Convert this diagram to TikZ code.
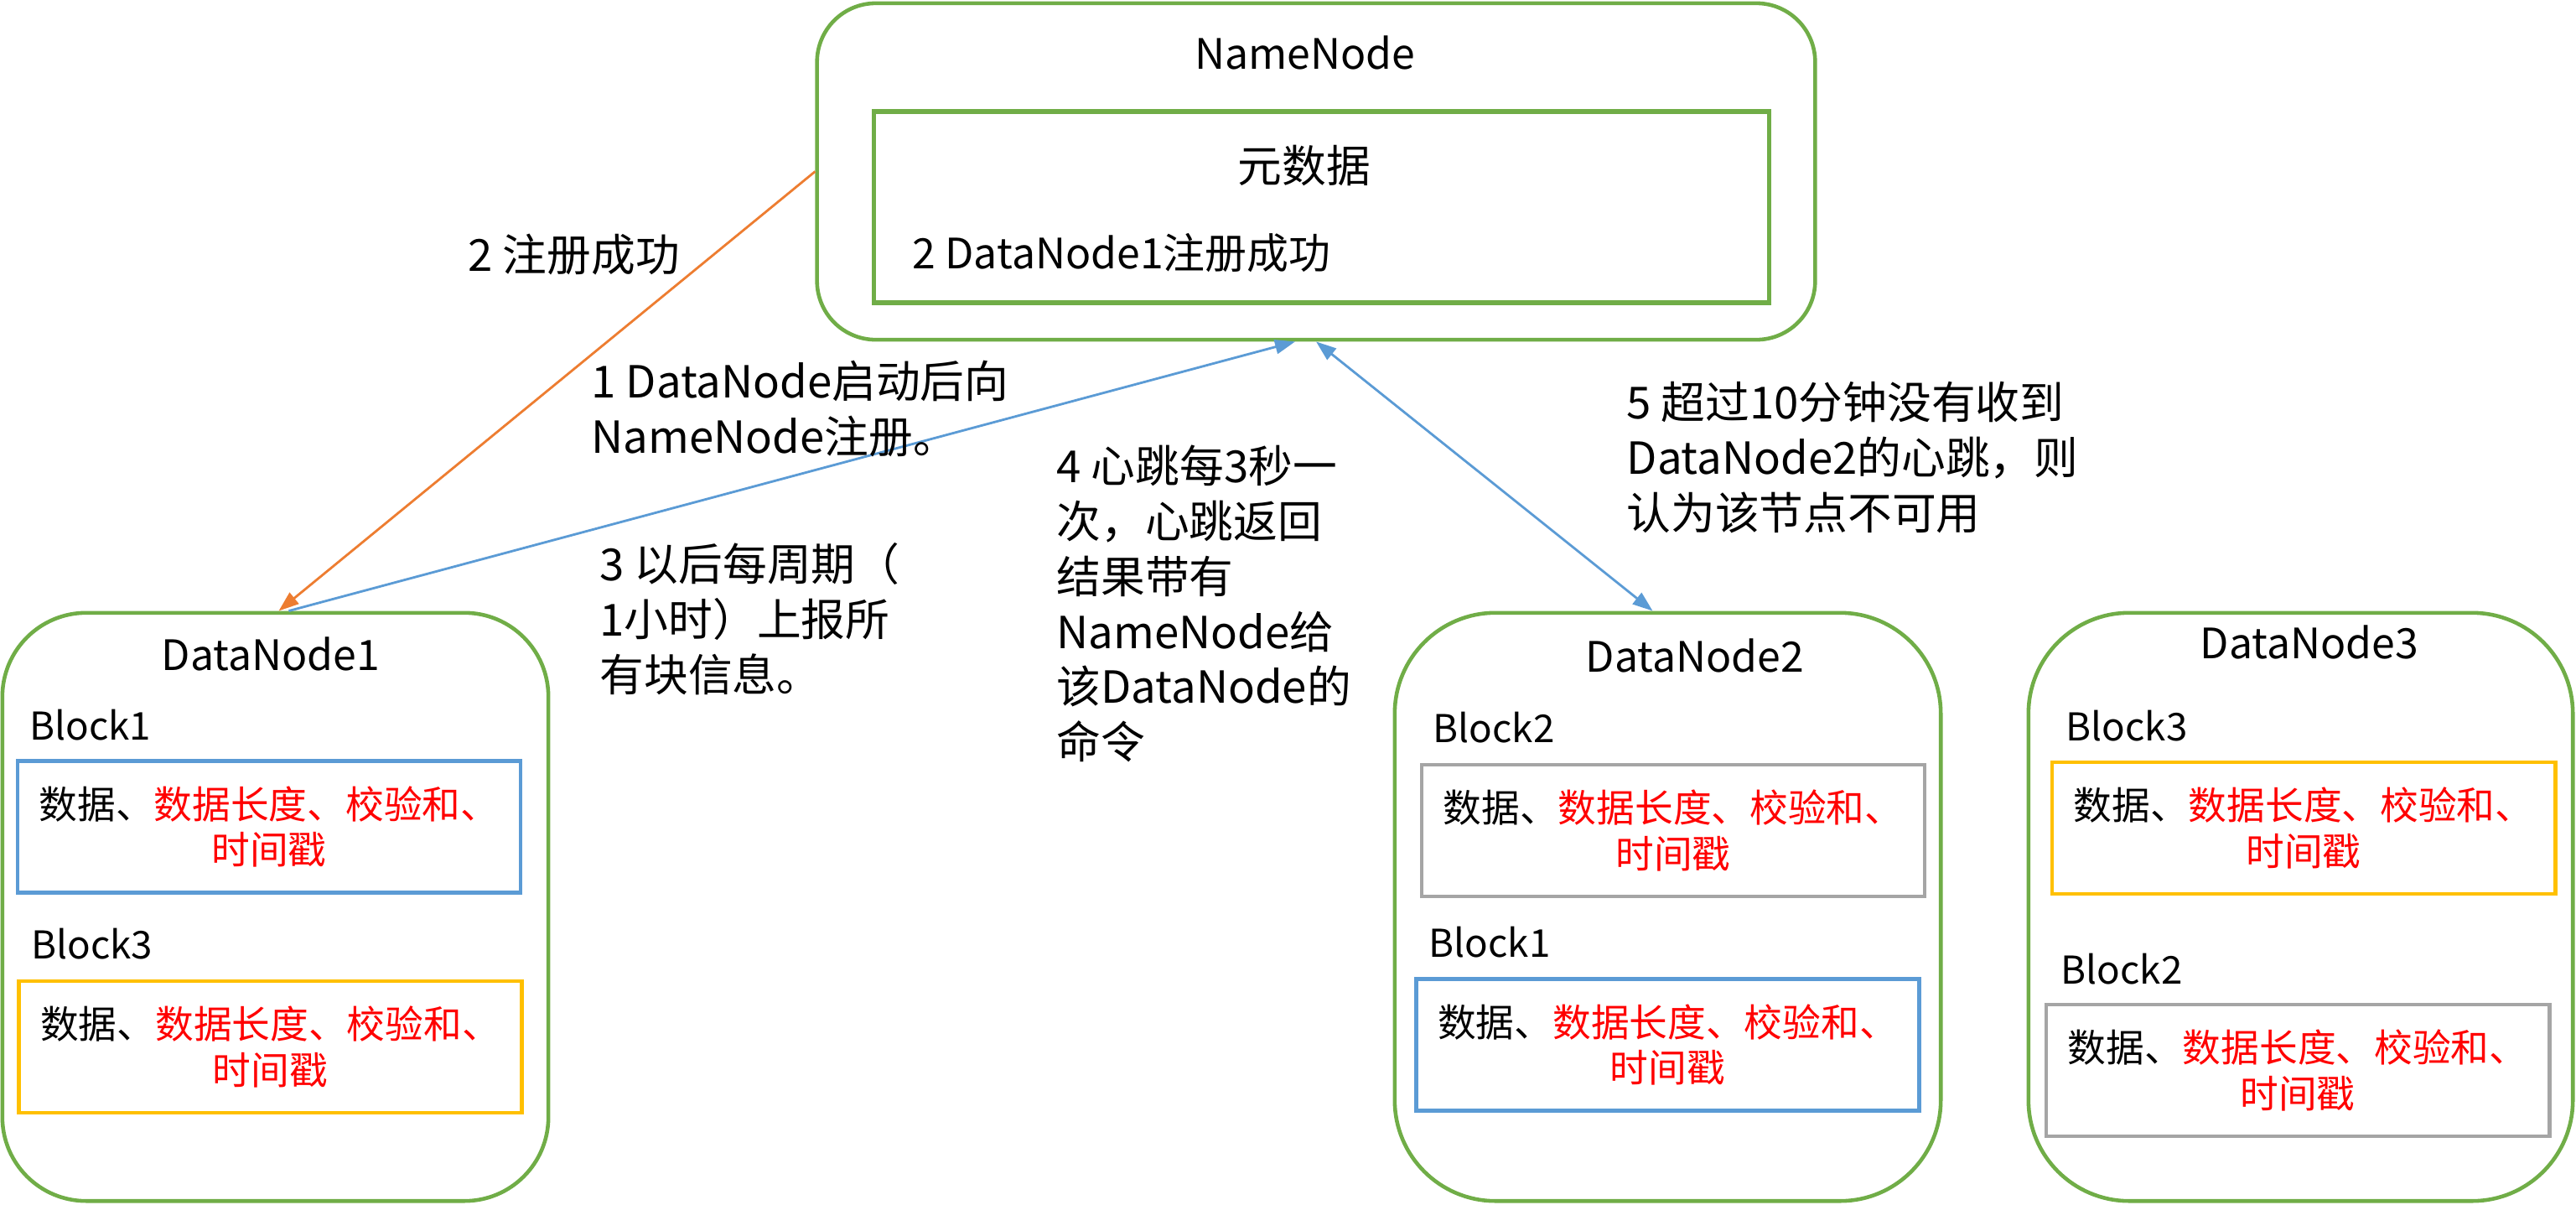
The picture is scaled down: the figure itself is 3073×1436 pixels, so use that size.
\documentclass[tikz,border=0pt]{standalone}
\usepackage{fontspec}
\setmainfont{Noto Sans CJK SC}
\usetikzlibrary{arrows.meta,calc}
\definecolor{grn}{HTML}{70AD47}
\definecolor{blu}{HTML}{5B9BD5}
\definecolor{org}{HTML}{ED7D31}
\definecolor{gld}{HTML}{FFC000}
\definecolor{gry}{HTML}{A5A5A5}
\definecolor{rd}{HTML}{FF0000}
\newcommand{\blktext}{数据、\textcolor{rd}{数据长度、校验和、}\\\textcolor{rd}{时间戳}}
\begin{document}
\begin{tikzpicture}[x=0.01cm,y=-0.01cm,
  outerbox/.style={draw=grn, line width=1.3pt, rounded corners=#1},
  blkbox/.style={draw=#1, line width=1.3pt, minimum width=6cm, minimum height=1.57cm, align=center, inner sep=0pt, font=\fontsize{13}{15.6}\selectfont},
  ttl/.style={font=\fontsize{14.2}{17}\selectfont, inner sep=0pt},
  blabel/.style={font=\fontsize{13}{16}\selectfont, anchor=west, inner sep=0pt},
  lbl/.style={font=\fontsize{15}{18.75}\selectfont, align=left, anchor=west, inner sep=0pt},
  conn/.style={line width=0.8pt}]
\useasboundingbox (0,0) rectangle (3073,1436);

% NameNode
\node[outerbox=0.7cm, minimum width=11.9cm, minimum height=4.01cm] (NN) at (1570,204.5) {};
\node[draw=grn, line width=1.5pt, minimum width=10.67cm, minimum height=2.28cm] (meta) at (1576.5,247) {};
\node[ttl] (nntitle) at (1557,63) {NameNode};
\node[ttl, font=\fontsize{15}{18}\selectfont] (metatitle) at (1556,198) {元数据};
\node[ttl, anchor=west] (metareg) at (1088,302) {2 DataNode1注册成功};

% DataNode1
\node[outerbox=1.0cm, minimum width=6.51cm, minimum height=7.01cm] (DN1) at (328.5,1081.5) {};
\node[ttl] (dn1title) at (323,780) {DataNode1};
\node[blabel] (dn1b1) at (35,865) {Block1};
\node[blkbox=blu] (dn1box1) at (321,986) {\blktext};
\node[blabel] (dn1b3) at (37,1126) {Block3};
\node[blkbox=gld] (dn1box3) at (322.5,1248.5) {\blktext};

% DataNode2
\node[outerbox=1.2cm, minimum width=6.51cm, minimum height=7.01cm] (DN2) at (1989.5,1081.5) {};
\node[ttl] (dn2title) at (2022,782) {DataNode2};
\node[blabel] (dn2b2) at (1709,868) {Block2};
\node[blkbox=gry] (dn2box2) at (1996,990.5) {\blktext};
\node[blabel] (dn2b1) at (1704,1124) {Block1};
\node[blkbox=blu] (dn2box1) at (1989.5,1246) {\blktext};

% DataNode3
\node[outerbox=1.2cm, minimum width=6.49cm, minimum height=7.01cm] (DN3) at (2744.5,1081.5) {};
\node[ttl] (dn3title) at (2755,766) {DataNode3};
\node[blabel] (dn3b3) at (2464,866) {Block3};
\node[blkbox=gld] (dn3box3) at (2748,987.5) {\blktext};
\node[blabel] (dn3b2) at (2458,1156) {Block2};
\node[blkbox=gry] (dn3box2) at (2741,1276.5) {\blktext};

% connectors
\coordinate (dn1in) at ($(DN1.north)+(4,0)$);
\coordinate (dn1out) at ($(DN1.north)+(16,0)$);
\coordinate (nnin) at ($(NN.south)+(-25,0)$);
\coordinate (nnout) at ($(NN.south)+(0,0)$);
\coordinate (dn2in) at ($(DN2.north)+(-18,0)$);
\draw[conn, draw=org, -{Triangle[length=2.4mm,width=1.7mm]}, org] (NN.west) -- (dn1in);
\draw[conn, draw=blu, -{Triangle[length=2.4mm,width=1.7mm]}, blu] (dn1out) -- (nnin);
\draw[conn, draw=blu, {Triangle[length=2.4mm,width=1.7mm]}-{Triangle[length=2.4mm,width=1.7mm]}, blu] (nnout) -- (dn2in);

% labels
\node[lbl] (l2) at (558,304) {2 注册成功};
\node[lbl] (l1) at (705,488) {1 DataNode启动后向\\NameNode注册。};
\node[lbl] (l3) at (715,738) {3 以后每周期（\\1小时）上报所\\有块信息。};
\node[lbl] (l4) at (1260,720) {4 心跳每3秒一\\次，心跳返回\\结果带有\\NameNode给\\该DataNode的\\命令};
\node[lbl] (l5) at (1940,546) {5 超过10分钟没有收到\\DataNode2的心跳，则\\认为该节点不可用};
\end{tikzpicture}
\end{document}
